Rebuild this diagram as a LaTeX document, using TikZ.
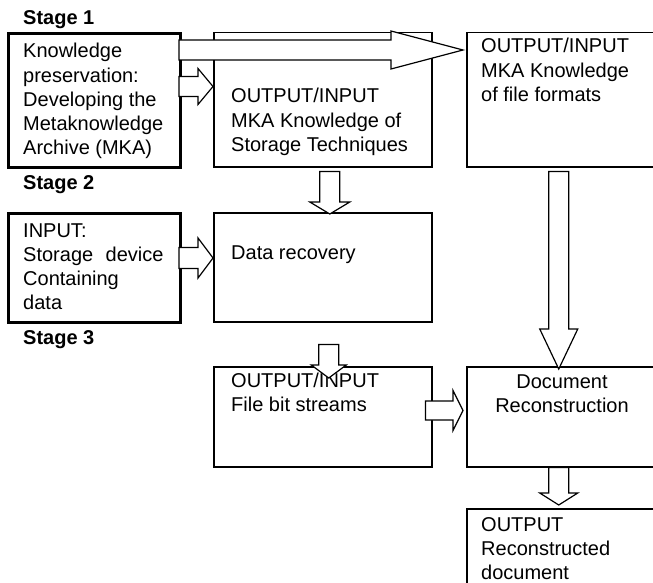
\documentclass[tikz,border=0pt]{standalone}
\usepackage{fontspec}
\setmainfont{Liberation Sans}
\usetikzlibrary{calc}
\newcommand\mlines[1]{\begin{tabular}[t]{@{}l@{}}#1\end{tabular}}
\newcommand\clines[1]{\begin{tabular}[t]{@{}c@{}}#1\end{tabular}}
% right-pointing block arrow: start, tip, shaft half width, head half width, head length
\newcommand\rblock[5]{%
  \draw[blk] let \p1=(#1), \p2=(#2) in
  (\x1,\y2+#3) -- (\x2-#5,\y2+#3) -- (\x2-#5,\y2+#4) -- (\x2,\y2)
  -- (\x2-#5,\y2-#4) -- (\x2-#5,\y2-#3) -- (\x1,\y2-#3) -- cycle;}
% down-pointing block arrow
\newcommand\dblock[5]{%
  \draw[blk] let \p1=(#1), \p2=(#2) in
  (\x1-#3,\y1) -- (\x1-#3,\y2+#5) -- (\x1-#4,\y2+#5) -- (\x1,\y2)
  -- (\x1+#4,\y2+#5) -- (\x1+#3,\y2+#5) -- (\x1+#3,\y1) -- cycle;}
\tikzset{
  box/.style={draw, line width=1.5pt, rectangle, inner sep=0pt, anchor=north west},
  thickbox/.style={box, line width=3pt},
  txt/.style={font=\fontsize{20}{24.2}\selectfont, inner sep=0pt, anchor=base west},
  stagelbl/.style={txt, font=\fontsize{20}{24.2}\selectfont\bfseries},
  blk/.style={draw, fill=white, line width=1.2pt, line join=miter},
}
\begin{document}
\begin{tikzpicture}[x=1pt, y=-1pt]
\useasboundingbox (0,0) rectangle (653,583);
% boxes
\node[thickbox, minimum width=172pt, minimum height=134pt] (A) at (7,32) {};
\node[box, minimum width=218pt, minimum height=134pt] (B) at (213,32) {};
\node[box, minimum width=192pt, minimum height=134pt] (C) at (466,32) {};
\node[thickbox, minimum width=172pt, minimum height=109pt] (D) at (7,212) {};
\node[box, minimum width=218pt, minimum height=109pt] (E) at (213,212) {};
\node[box, minimum width=218pt, minimum height=100pt] (F) at (213,366) {};
\node[box, minimum width=192pt, minimum height=100pt] (G) at (466,366) {};
\node[box, minimum width=192pt, minimum height=100pt] (H) at (466,508) {};
% stage labels
\node[stagelbl] (s1) at (23,25) {Stage 1};
\node[stagelbl] (s2) at (23,189) {Stage 2};
\node[stagelbl] (s3) at (23,344) {Stage 3};
% texts
\node[txt] (At) at (23,58) {\mlines{Knowledge\\preservation:\\Developing the\\Metaknowledge\\Archive (MKA)}};
\node[txt] (Bt) at (231,103) {\mlines{OUTPUT/INPUT\\MKA Knowledge of\\Storage Techniques}};
\node[txt] (Ct) at (481,53) {\mlines{OUTPUT/INPUT\\MKA Knowledge\\of file formats}};
\node[txt] (Dt) at (23,237) {\mlines{INPUT:\\Storage\hspace{12.5pt}device\\Containing\\data}};
\node[txt] (Et) at (231,259) {Data recovery};
\node[txt] (Ft) at (231,387) {\mlines{OUTPUT/INPUT\\File bit streams}};
\node[txt, anchor=base] (Gt) at (562,388) {\clines{Document\\Reconstruction}};
\node[txt] (Ht) at (481,531) {\mlines{OUTPUT\\Reconstructed\\document}};
% block arrows
\rblock{[xshift=-3pt,yshift=-18pt]A.north east}{[xshift=-3pt,yshift=-18pt]C.north west}{10pt}{19pt}{72pt}
\rblock{[xshift=-3pt,yshift=-54.5pt]A.north east}{[yshift=-54.5pt]B.north west}{10pt}{18pt}{15pt}
\rblock{[xshift=-3pt,yshift=-46pt]D.north east}{[yshift=-46pt]E.north west}{10.5pt}{20pt}{15pt}
\rblock{[xshift=-7pt,yshift=-44.5pt]F.north east}{[xshift=-3pt,yshift=-44.5pt]G.north west}{9.5pt}{20pt}{10pt}
\dblock{[xshift=7pt,yshift=-4pt]B.south}{[xshift=7pt,yshift=-2pt]E.north}{10pt}{20pt}{12pt}
\dblock{[xshift=6pt,yshift=-22pt]E.south}{[xshift=6pt,yshift=-12pt]F.north}{10pt}{17.5pt}{13pt}
\dblock{[xshift=-4pt,yshift=-4pt]C.south}{[xshift=-4pt,yshift=-3pt]G.north}{10pt}{19pt}{40pt}
\dblock{[xshift=-4pt]G.south}{[xshift=-4pt,yshift=3pt]H.north}{10pt}{19pt}{12pt}
\end{tikzpicture}
\end{document}
